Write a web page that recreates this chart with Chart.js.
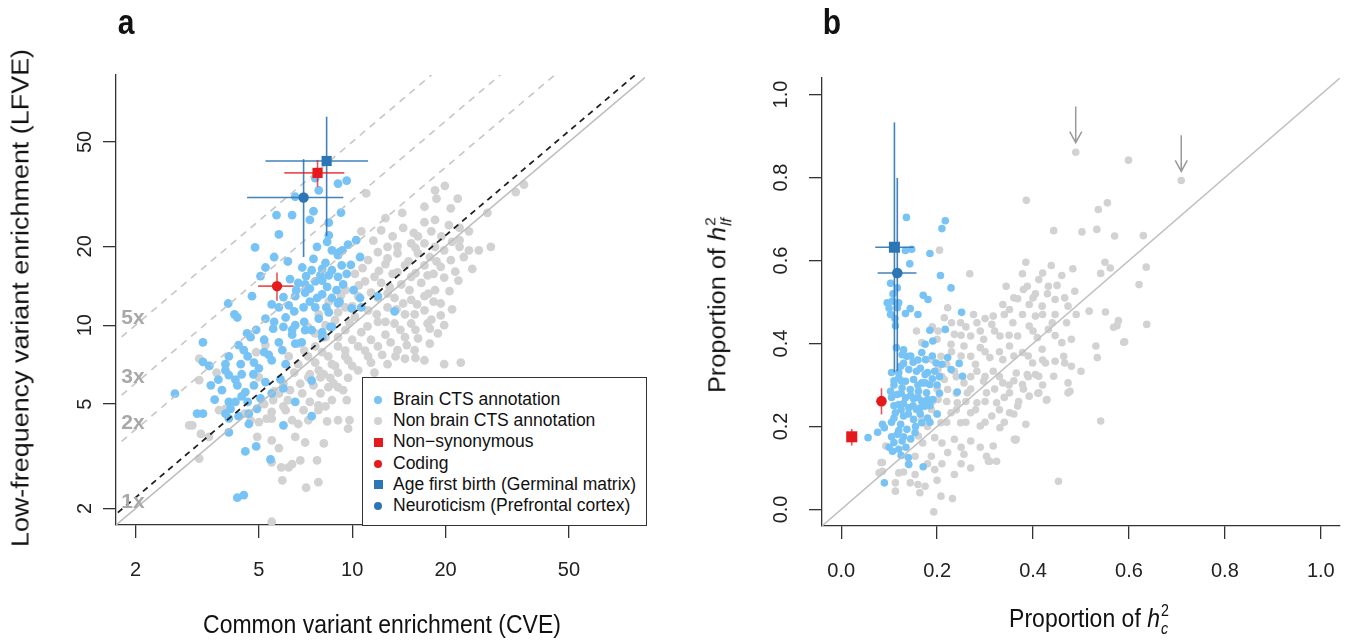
<!DOCTYPE html>
<html>
<head>
<meta charset="utf-8">
<script src="https://cdn.jsdelivr.net/npm/chart.js@4.4.0/dist/chart.umd.min.js"></script>
<style>
  body { margin: 0; background: #fff; font-family: "Liberation Sans", Arial, sans-serif; }
  #wrap { position: relative; width: 1366px; height: 644px; overflow: hidden; }
  canvas { position: absolute; top: 0; }
  .lbl { position: absolute; color: #111; white-space: nowrap; transform-origin: center; }
  .panel { font-weight: bold; font-size: 30px; }
  .title { font-size: 23px; }
  .ss { display: inline-block; vertical-align: -0.4em; font-size: 0.62em; line-height: 1.1; margin-left: 1px; }
  .ss span { display: block; }
  #legend { position: absolute; left: 362px; top: 377px; width: 283px; height: 147px; background: #fff;
            border: 1px solid #333; font-size: 17.5px; color: #111; }
  #legend div { position: absolute; left: 30px; white-space: nowrap; }
  #legend i { position: absolute; display: block; }
</style>
</head>
<body>
<div id="wrap">
  <canvas id="chartA" width="683" height="644" style="left:0;width:683px;height:644px"></canvas>
  <canvas id="chartB" width="683" height="644" style="left:683px;width:683px;height:644px"></canvas>

  <div class="lbl panel" style="left:126px;top:22px;transform:translate(-50%,-50%) scaleY(1.15)">a</div>
  <div class="lbl panel" style="left:832px;top:22px;transform:translate(-50%,-50%) scaleY(1.15)">b</div>

  <div class="lbl title" style="left:21px;top:298px;transform:translate(-50%,-50%) rotate(-90deg) scaleX(1.17)">Low-frequency variant enrichment (LFVE)</div>
  <div class="lbl title" style="left:382px;top:625px;transform:translate(-50%,-50%) scaleY(1.12)">Common variant enrichment (CVE)</div>
  <div class="lbl title" style="left:719px;top:305px;transform:translate(-50%,-50%) rotate(-90deg) scaleX(1.1)">Proportion of <i>h</i><span class="ss"><span>2</span><span><i>lf</i></span></span></div>
  <div class="lbl title" style="left:1089px;top:620px;transform:translate(-50%,-50%) scaleY(1.1)">Proportion of <i>h</i><span class="ss"><span>2</span><span><i>c</i></span></span></div>

  <div id="legend"></div>
</div>

<script>
// ---- data: panel a (enrichment, log scales) ----
const tickA = [2, 5, 10, 20, 50];
const guideRatios = [2, 3, 5];
const guideLabels = ['5x', '3x', '2x', '1x'];
const guideLabelY = [10.6, 6.33, 4.23, 2.11];
const fitRatio = 1.1;

const brainA = [
  [7.6,36.4],[9.0,34.7],[9.6,35.6],[7.8,32.7],[6.55,30.9],[5.7,26.3],[6.4,26.3],[7.5,27.2],[7.3,25.2],[9.2,26.9],
  [5.8,22.2],[8.4,24.6],[8.3,20.8],[8.4,22.0],[4.86,19.8],[7.7,19.9],[5.6,18.2],[8.6,19.3],[9.3,19.3],[9.7,20.3],
  [10.3,21.1],[10.6,18.2],[7.5,17.9],[9.0,18.5],[5.25,16.6],[6.9,16.6],[7.4,16.2],[8.0,16.4],[8.6,16.2],[9.25,16.9],
  [7.1,15.4],[7.9,15.5],[8.4,15.5],[5.06,15.4],[6.7,14.5],[7.05,14.3],[7.6,14.7],[8.0,14.8],[9.0,15.3],[4.75,12.9],
  [6.0,12.8],[6.55,12.9],[7.05,13.3],[8.0,13.1],[8.6,12.7],[9.1,12.3],[3.98,12.1],[4.17,11.0],[4.26,10.7],[5.8,11.7],
  [6.24,11.9],[6.97,11.7],[7.6,11.7],[8.25,11.7],[5.25,10.6],[6.1,10.7],[5.56,9.7],[6.0,9.85],[6.55,10.0],[7.05,9.57],
  [4.58,9.3],[4.7,9.0],[3.3,8.6],[6.4,9.2],[6.87,8.6],[8.0,9.0],[8.6,9.85],[9.95,11.6],[10.7,11.7],[7.8,10.6],
  [4.47,8.03],[3.3,7.25],[3.46,7.0],[3.9,7.1],[4.37,7.1],[4.82,7.2],[5.0,6.85],[5.38,7.7],[5.5,7.35],[6.1,7.1],
  [5.95,8.03],[6.55,8.5],[3.9,6.73],[4.0,6.45],[3.5,5.9],[3.8,5.65],[4.26,5.9],[4.82,5.9],[5.25,6.07],[4.52,5.56],
  [2.68,5.48],[4.0,5.1],[4.2,5.1],[4.4,5.35],[5.06,5.26],[6.0,5.74],[5.87,6.22],[7.4,6.15],[3.16,4.6],[3.3,4.6],
  [4.05,4.8],[4.0,4.41],[4.64,4.6],[4.93,4.8],[4.64,4.2],[4.0,3.9],[6.55,5.1],[6.0,4.15],[7.4,4.5],[4.52,3.3],
  [4.9,3.45],[5.45,3.08],[4.26,2.2],[4.47,2.25],[9.1,19.0],[9.35,14.3],[10.1,13.6],[10.6,12.7],[12.1,12.9],[13.7,11.3],
  [9.0,12.1],[8.0,9.4],[8.5,9.85],[7.4,9.57],
  [6.3,15.0],[7.3,13.8],[8.3,14.0],[6.6,13.6],[5.5,12.0],[6.5,11.3],[7.3,12.3],[8.4,11.2],[5.6,10.3],[6.4,9.6],
  [7.0,10.3],[4.9,9.6],[5.2,8.8],[5.8,8.6],[4.3,8.4],[4.0,7.6],[4.6,7.6],[5.2,7.9],[4.4,6.5],[4.8,6.5],
  [3.7,6.2],[4.2,6.2],[3.6,5.2],[4.6,5.1],[4.3,4.5],[3.9,4.6],[5.5,5.5],[7.7,12.7],[8.9,13.6],[9.6,15.7],
  [8.2,17.3],[6.2,17.5],[9.9,17.0]
];

const otherA = [
  [11.1,31.8],[12.8,25.6],[14.5,26.8],[18.5,32.7],[19.9,34.0],[21.9,30.4],[18.7,30.4],[17.1,28.3],[20.8,27.9],[17.1,24.7],
  [18.5,25.2],[20.5,24.1],[22.2,23.5],[14.6,23.5],[10.7,22.8],[18.0,22.8],[19.4,21.8],[16.3,21.8],[13.5,21.8],[13.0,19.9],
  [15.5,20.5],[17.1,20.5],[18.5,19.9],[19.8,19.3],[22.2,19.9],[23.8,19.3],[25.6,19.3],[28.0,19.9],[12.1,19.0],[14.0,18.8],
  [16.3,18.8],[17.8,18.2],[20.8,17.7],[22.9,18.2],[11.25,17.7],[12.8,17.1],[14.8,16.9],[17.1,16.9],[19.3,16.7],[24.4,16.4],
  [10.2,15.7],[11.8,15.3],[13.5,15.7],[15.5,15.3],[17.5,15.5],[19.8,15.2],[11.0,14.7],[12.4,14.5],[14.4,14.3],[16.7,14.5],
  [18.5,13.6],[9.5,13.6],[10.45,12.9],[12.1,12.7],[13.7,12.7],[15.5,12.5],[17.1,12.9],[19.3,12.1],[8.4,12.3],[9.5,11.7],
  [11.25,11.4],[13.0,11.7],[14.8,11.0],[17.1,11.4],[19.3,10.9],[7.8,11.0],[8.8,10.45],[10.2,10.75],[12.1,10.3],[13.7,10.15],
  [15.5,10.15],[17.5,10.15],[19.8,10.0],[7.2,9.85],[8.2,9.0],[9.5,9.57],[10.7,9.4],[12.8,9.2],[14.8,9.0],[16.3,8.9],
  [18.9,9.3],[6.7,8.5],[7.6,8.3],[9.0,8.3],[10.45,8.3],[12.1,8.3],[14.0,8.03],[15.9,8.03],[17.1,7.35],[19.8,7.1],
  [22.4,7.2],[6.24,7.6],[7.2,7.6],[8.37,7.6],[9.7,7.35],[11.25,7.6],[13.0,7.1],[14.8,7.45],[7.8,6.73],[9.0,6.6],
  [10.45,6.73],[11.8,6.6],[33.7,32.2],[35.8,34.4],[27.3,26.8],[23.8,22.8],[22.2,21.1],[3.21,7.45],[3.45,7.0],[3.65,6.6],
  [3.21,6.17],[3.9,4.8],[2.98,4.15],[3.25,3.85],[3.45,3.75],[3.21,3.1],[4.5,4.6],[4.7,4.34],[4.94,3.75],[5.5,3.64],
  [5.8,3.4],[5.0,4.27],[5.5,4.4],[6.1,4.74],[6.97,4.74],[7.78,4.74],[5.8,5.48],[6.3,5.65],[6.8,5.98],
  [7.22,6.33],[7.9,6.33],[8.37,5.8],[9.0,5.8],[8.6,5.18],[9.6,5.18],[9.0,4.34],[9.8,4.34],[9.7,4.03],[8.1,3.54],
  [6.8,3.05],[6.4,2.95],[5.9,2.87],[5.95,2.56],[7.1,2.4],[7.78,2.52],[5.5,3.0],[5.5,1.78],[4.9,7.9],[5.25,8.4],
  [5.0,6.33],[5.5,4.67],[3.72,4.74],[3.05,4.15],[6.55,3.75],[7.05,3.57],[6.24,2.87],[7.7,3.05],[6.4,4.34],[7.22,4.34],
  [7.78,4.95],[9.35,5.65],[6.2,5.18],[5.56,5.18],[8.1,6.5],[8.6,7.1],[9.5,7.6],
  [11.7,21.0],[12.4,23.0],[15.8,22.5],[14.0,20.0],[16.0,19.7],[21.0,20.8],[13.0,18.0],[15.2,17.5],[18.7,17.5],[21.5,16.0],
  [10.8,16.5],[12.2,16.1],[14.0,15.9],[16.0,15.8],[18.3,15.7],[22.0,14.8],[10.5,14.2],[13.2,14.0],[15.3,13.6],[17.6,13.2],
  [20.6,13.5],[9.2,13.0],[11.5,13.3],[13.0,13.2],[14.6,12.1],[16.2,12.0],[18.3,12.3],[9.0,11.2],[10.0,11.8],[12.0,11.0],
  [13.9,11.5],[15.9,11.0],[18.0,10.5],[21.0,11.5],[8.2,10.0],[9.8,10.2],[11.2,9.9],[12.8,10.3],[14.3,9.6],[16.0,9.6],
  [17.8,9.7],[7.6,9.3],[9.0,9.0],[10.0,8.8],[11.5,8.8],[13.3,8.6],[15.0,8.4],[17.8,8.5],[7.0,8.0],[8.0,7.9],
  [9.5,8.0],[11.0,8.0],[12.5,7.7],[13.8,7.6],[16.0,7.5],[6.7,7.1],[7.6,7.2],[8.8,7.0],[10.0,7.0],[11.5,7.2],
  [6.5,6.6],[7.3,6.5],[8.5,6.3],[9.7,6.3],[6.0,6.0],[7.5,5.9],[8.7,6.0],[5.6,5.6],[6.9,5.5],[7.9,5.5],
  [5.2,5.0],[6.0,4.9],[7.3,5.1],[8.2,4.9],[5.3,4.4],[6.7,4.2],[8.3,4.3]
];

// highlighted annotations: Non-synonymous, Coding, Age first birth, Neuroticism
const specNames = ['Non\u2212synonymous', 'Coding', 'Age first birth (Germinal matrix)', 'Neuroticism (Prefrontal cortex)'];
const specA_x   = [7.73, 5.72, 8.27, 6.97];
const specA_y   = [38.1, 14.1, 42.3, 30.7];
const specA_xlo = [6.04, 4.97, 5.25, 4.58];
const specA_xhi = [9.43, 6.47, 11.25, 9.36];
const specA_ylo = [33.7, 12.4, 21.9, 18.2];
const specA_yhi = [42.7, 15.9, 62.4, 43.0];

// ---- data: panel b (proportion of heritability) ----
const tickB = [0, 0.2, 0.4, 0.6, 0.8, 1.0];

const brainB = [
  [0.136,0.704],[0.217,0.696],[0.210,0.677],[0.134,0.624],[0.147,0.627],[0.185,0.617],[0.143,0.592],[0.207,0.564],[0.229,0.534],[0.103,0.545],
  [0.117,0.534],[0.171,0.516],[0.181,0.506],[0.096,0.498],[0.107,0.502],[0.120,0.498],[0.117,0.486],[0.144,0.484],[0.134,0.472],[0.160,0.470],
  [0.103,0.470],[0.113,0.443],[0.251,0.475],[0.185,0.432],[0.217,0.434],[0.191,0.406],[0.127,0.373],[0.137,0.369],[0.168,0.378],[0.176,0.361],
  [0.222,0.366],[0.246,0.352],[0.195,0.333],[0.229,0.337],[0.253,0.321],[0.242,0.283],[0.124,0.345],[0.141,0.337],[0.157,0.333],[0.175,0.325],
  [0.120,0.317],[0.134,0.309],[0.151,0.313],[0.168,0.305],[0.185,0.301],[0.127,0.293],[0.144,0.289],[0.161,0.285],[0.178,0.281],[0.117,0.277],
  [0.134,0.269],[0.151,0.267],[0.168,0.261],[0.191,0.265],[0.120,0.253],[0.141,0.245],[0.157,0.241],[0.175,0.249],[0.113,0.233],[0.130,0.225],
  [0.151,0.217],[0.168,0.209],[0.124,0.205],[0.137,0.193],[0.154,0.185],[0.117,0.181],[0.110,0.161],[0.127,0.165],[0.107,0.140],[0.120,0.145],
  [0.141,0.108],[0.171,0.103],[0.090,0.064],[0.103,0.285],[0.086,0.205],[0.076,0.186],[0.056,0.173],[0.090,0.197],[0.198,0.353],[0.175,0.398],
  [0.130,0.352],[0.150,0.355],[0.110,0.300],[0.160,0.300],[0.125,0.240],[0.145,0.275],[0.110,0.220],[0.100,0.150],[0.135,0.150],[0.165,0.230],
  [0.180,0.330],[0.200,0.300],
  [0.115,0.390],[0.130,0.385],[0.145,0.370],[0.160,0.360],[0.190,0.370],[0.210,0.350],[0.105,0.330],[0.120,0.330],[0.165,0.340],[0.190,0.315],
  [0.205,0.320],[0.110,0.310],[0.125,0.310],[0.175,0.305],[0.105,0.270],[0.125,0.280],[0.160,0.270],[0.180,0.265],[0.205,0.280],[0.110,0.250],
  [0.130,0.255],[0.150,0.250],[0.165,0.245],[0.185,0.250],[0.105,0.210],[0.140,0.230],[0.155,0.200],[0.180,0.220],[0.120,0.190],[0.145,0.170],
  [0.130,0.175],[0.105,0.175],[0.125,0.130],[0.140,0.125],[0.200,0.230],[0.185,0.210],[0.108,0.520],[0.112,0.460],[0.100,0.485]
];

const otherB = [
  [0.386,0.745],[0.443,0.672],[0.502,0.669],[0.205,0.625],[0.268,0.568],[0.385,0.596],[0.378,0.568],[0.438,0.588],[0.483,0.580],[0.412,0.554],
  [0.460,0.564],[0.344,0.538],[0.388,0.538],[0.432,0.538],[0.487,0.526],[0.405,0.520],[0.368,0.508],[0.446,0.506],[0.466,0.510],[0.337,0.494],
  [0.351,0.482],[0.392,0.494],[0.419,0.490],[0.473,0.490],[0.222,0.486],[0.276,0.470],[0.317,0.466],[0.378,0.470],[0.405,0.466],[0.446,0.470],
  [0.490,0.470],[0.517,0.478],[0.215,0.462],[0.249,0.450],[0.283,0.450],[0.314,0.446],[0.358,0.450],[0.392,0.442],[0.432,0.434],[0.157,0.430],
  [0.202,0.430],[0.236,0.422],[0.270,0.418],[0.297,0.410],[0.331,0.418],[0.368,0.418],[0.409,0.414],[0.460,0.402],[0.168,0.402],[0.229,0.398],
  [0.256,0.394],[0.290,0.390],[0.351,0.394],[0.378,0.378],[0.419,0.386],[0.426,0.353],[0.446,0.357],[0.466,0.353],[0.500,0.333],[0.208,0.369],
  [0.270,0.369],[0.310,0.366],[0.337,0.361],[0.399,0.353],[0.202,0.337],[0.236,0.333],[0.283,0.333],[0.317,0.333],[0.365,0.329],[0.405,0.325],
  [0.443,0.321],[0.215,0.313],[0.256,0.305],[0.297,0.309],[0.337,0.305],[0.378,0.301],[0.473,0.305],[0.477,0.285],[0.222,0.289],[0.263,0.281],
  [0.303,0.281],[0.351,0.281],[0.392,0.273],[0.429,0.265],[0.202,0.265],[0.242,0.257],[0.283,0.257],[0.324,0.257],[0.368,0.249],[0.188,0.241],
  [0.229,0.233],[0.270,0.233],[0.314,0.225],[0.351,0.233],[0.385,0.205],[0.168,0.217],[0.208,0.209],[0.249,0.209],[0.290,0.201],[0.331,0.197],
  [0.365,0.169],[0.161,0.177],[0.195,0.173],[0.236,0.169],[0.270,0.165],[0.317,0.153],[0.093,0.153],[0.086,0.113],[0.154,0.128],[0.188,0.128],
  [0.222,0.137],[0.256,0.133],[0.303,0.128],[0.310,0.116],[0.324,0.116],[0.086,0.092],[0.120,0.088],[0.154,0.084],[0.195,0.096],[0.236,0.084],
  [0.113,0.064],[0.144,0.064],[0.175,0.056],[0.113,0.044],[0.164,0.040],[0.208,0.032],[0.232,0.026],[0.453,0.068],[0.193,-0.006],[0.541,0.213],
  [0.361,0.169],[0.531,0.394],[0.534,0.366],[0.589,0.403],[0.551,0.476],[0.575,0.443],[0.480,0.345],[0.473,0.281],[0.307,0.116],[0.079,0.088],
  [0.083,0.113],[0.489,0.861],[0.599,0.842],[0.709,0.793],[0.536,0.723],[0.555,0.739],[0.533,0.675],[0.570,0.659],[0.630,0.660],[0.550,0.596],
  [0.561,0.582],[0.636,0.584],[0.541,0.569],[0.621,0.542],[0.578,0.455],[0.568,0.439],[0.637,0.446],[0.591,0.404],[0.446,0.419],[0.464,0.369],
  [0.412,0.281],[0.428,0.263],[0.363,0.167],[0.388,0.325],[0.412,0.321],
  [0.190,0.360],[0.220,0.350],[0.250,0.370],[0.280,0.350],[0.300,0.380],[0.330,0.380],[0.360,0.370],[0.390,0.370],[0.420,0.360],[0.210,0.320],
  [0.240,0.320],[0.270,0.320],[0.300,0.320],[0.330,0.320],[0.360,0.310],[0.390,0.320],[0.420,0.300],[0.200,0.290],[0.240,0.280],[0.270,0.290],
  [0.320,0.290],[0.350,0.300],[0.380,0.290],[0.410,0.280],[0.190,0.260],[0.220,0.260],[0.260,0.260],[0.300,0.260],[0.340,0.270],[0.370,0.260],
  [0.200,0.230],[0.240,0.240],[0.280,0.240],[0.330,0.240],[0.360,0.230],[0.180,0.200],[0.220,0.210],[0.260,0.210],[0.300,0.210],[0.340,0.210],
  [0.170,0.160],[0.210,0.160],[0.250,0.150],[0.290,0.150],[0.140,0.110],[0.180,0.110],[0.210,0.110],[0.250,0.110],[0.270,0.100],[0.160,0.060],
  [0.200,0.070],[0.130,0.090],[0.250,0.420],[0.290,0.430],[0.320,0.430],[0.350,0.420],[0.400,0.430],[0.300,0.460],[0.340,0.470],[0.420,0.470],
  [0.360,0.510],[0.400,0.510],[0.430,0.520],[0.380,0.530],[0.420,0.570],[0.450,0.540],[0.470,0.450],[0.440,0.450],[0.480,0.410],[0.230,0.450],
  [0.260,0.440],[0.200,0.410],[0.230,0.380],[0.190,0.440]
];

const specB_x   = [0.022, 0.084, 0.111, 0.117];
const specB_y   = [0.175, 0.261, 0.632, 0.570];
const specB_xlo = [0.022, 0.084, 0.071, 0.076];
const specB_xhi = [0.022, 0.084, 0.151, 0.157];
const specB_ylo = [0.154, 0.229, 0.331, 0.333];
const specB_yhi = [0.194, 0.292, 0.933, 0.799];

// arrows pointing at the two outliers
const arrowX   = [0.489, 0.709];
const arrowTop = [0.971, 0.902];
const arrowEnd = [0.884, 0.815];

// ---- styles ----
const BLUE_LIGHT = '#78c3f5';
const GREY = '#d2d2d2';
const RED = '#e41a1c';
const BLUE = '#2d76b6';
const specColor = [RED, RED, BLUE, BLUE];
const specStyle = ['rect', 'circle', 'rect', 'circle'];
const FONT = '"Liberation Sans", Arial, sans-serif';

Chart.defaults.font.family = FONT;
Chart.defaults.color = '#222';

const toXY = arr => arr.map(p => ({ x: p[0], y: p[1] }));

function pointSet(arr, color, r, order) {
    return { type: 'scatter', data: toXY(arr), pointRadius: r, pointBackgroundColor: color,
             pointBorderWidth: 0, pointHoverRadius: r, order: order };
}

function lineSet(pts, color, width, dash, order) {
    return { type: 'scatter', data: pts, showLine: true, pointRadius: 0, borderColor: color,
             borderWidth: width, borderDash: dash || [], order: order };
}

function specialSets(xs, ys, xlo, xhi, ylo, yhi, sqR, cR) {
    const sets = [];
    xs.forEach((x, i) => {
        const c = specColor[i];
        const barColor = c === RED ? 'rgba(228,26,28,0.75)' : 'rgba(45,118,182,0.9)';
        if (xlo[i] !== xhi[i]) sets.push(lineSet([{ x: xlo[i], y: ys[i] }, { x: xhi[i], y: ys[i] }], barColor, 1.6, null, 2));
        sets.push(lineSet([{ x: x, y: ylo[i] }, { x: x, y: yhi[i] }], barColor, 1.6, null, 2));
        sets.push({ type: 'scatter', data: [{ x: x, y: ys[i] }], pointStyle: specStyle[i],
                    pointRadius: specStyle[i] === 'rect' ? sqR : cR, pointBackgroundColor: c,
                    pointBorderWidth: 0, order: 1 });
    });
    return sets;
}

function axis(type, min, max, ticks, fmt, fitProp, fitVal, extra) {
    return Object.assign({
        type: type, min: min, max: max,
        afterBuildTicks: s => { s.ticks = ticks.map(v => ({ value: v })); },
        afterFit: s => { s[fitProp] = fitVal; },
        ticks: { callback: fmt, font: { size: 20 }, color: '#222', padding: 20, autoSkip: false, maxRotation: 0 },
        grid: { drawOnChartArea: false, drawTicks: true, tickLength: 13, color: '#333', lineWidth: 1.3 },
        border: { display: true, color: '#333', width: 1.3 }
    }, extra || {});
}

// y tick labels are drawn parallel to the axis, like base R
const rotatedTicks = {
    id: 'rotatedTicks',
    afterDraw(chart, args, opts) {
        const s = chart.scales.y, ctx = chart.ctx;
        ctx.save();
        ctx.font = '20px ' + FONT;
        ctx.fillStyle = '#222';
        ctx.textAlign = 'center';
        ctx.textBaseline = 'middle';
        s.ticks.forEach(t => {
            ctx.save();
            ctx.translate(chart.chartArea.left - opts.gap, s.getPixelForValue(t.value));
            ctx.rotate(-Math.PI / 2);
            ctx.fillText(opts.fmt(t.value), 0, 0);
            ctx.restore();
        });
        ctx.restore();
    }
};

const guideText = {
    id: 'guideText',
    afterDatasetsDraw(chart, args, opts) {
        if (!opts.labels) return;
        const ctx = chart.ctx, sx = chart.scales.x, sy = chart.scales.y;
        ctx.save();
        ctx.font = 'bold 21px ' + FONT;
        ctx.fillStyle = '#a8a8a8';
        ctx.textBaseline = 'middle';
        opts.labels.forEach((t, i) => ctx.fillText(t, sx.getPixelForValue(opts.x), sy.getPixelForValue(opts.y[i])));
        ctx.restore();
    }
};

const arrows = {
    id: 'arrows',
    afterDatasetsDraw(chart, args, opts) {
        if (!opts.x) return;
        const ctx = chart.ctx, sx = chart.scales.x, sy = chart.scales.y;
        ctx.save();
        ctx.strokeStyle = '#9a9a9a';
        ctx.lineWidth = 1.5;
        opts.x.forEach((v, i) => {
            const px = sx.getPixelForValue(v), y0 = sy.getPixelForValue(opts.top[i]), y1 = sy.getPixelForValue(opts.end[i]);
            ctx.beginPath();
            ctx.moveTo(px, y0); ctx.lineTo(px, y1);
            ctx.moveTo(px - 6, y1 - 11); ctx.lineTo(px, y1); ctx.lineTo(px + 6, y1 - 11);
            ctx.stroke();
        });
        ctx.restore();
    }
};

const common = {
    responsive: false, animation: false, devicePixelRatio: 1, events: [],
    plugins: { legend: { display: false }, tooltip: { enabled: false } }
};

// ---- panel a ----
// order: lower numbers are drawn on top
const setsA = [
    lineSet([{ x: 1, y: 1 }, { x: 100, y: 100 }], '#bdbdbd', 1.6, null, 3),
    lineSet([{ x: 1, y: fitRatio }, { x: 100, y: 100 * fitRatio }], '#222', 1.8, [6, 5], 3)
].concat(guideRatios.map(r => lineSet([{ x: 1, y: r }, { x: 100, y: 100 * r }], '#c6c6c6', 1.6, [7, 6], 3)))
 .concat([pointSet(otherA, GREY, 4.4, 5), pointSet(brainA, BLUE_LIGHT, 4.4, 4)])
 .concat(specialSets(specA_x, specA_y, specA_xlo, specA_xhi, specA_ylo, specA_yhi, 7.2, 5.2));

new Chart(document.getElementById('chartA'), {
    type: 'scatter',
    data: { datasets: setsA },
    options: Object.assign({}, common, {
        layout: { padding: { top: 75, right: 38, left: 0, bottom: 0 } },
        scales: {
            x: axis('logarithmic', 1.73, 88, tickA, v => String(v), 'height', 119),
            y: axis('logarithmic', 1.73, 90, tickA, v => String(v), 'width', 116,
                    { ticks: { color: 'rgba(0,0,0,0)', font: { size: 20 } } })
        },
        plugins: Object.assign({}, common.plugins, {
            rotatedTicks: { gap: 31, fmt: v => String(v) },
            guideText: { labels: guideLabels, x: 1.80, y: guideLabelY }
        })
    }),
    plugins: [rotatedTicks, guideText]
});

// ---- panel b ----
const setsB = [lineSet([{ x: -0.04, y: -0.04 }, { x: 1.04, y: 1.04 }], '#c0c0c0', 1.5, null, 3)]
    .concat([pointSet(otherB, GREY, 3.8, 5), pointSet(brainB, BLUE_LIGHT, 3.8, 4)])
    .concat(specialSets(specB_x, specB_y, specB_xlo, specB_xhi, specB_ylo, specB_yhi, 7.8, 5.3));

new Chart(document.getElementById('chartB'), {
    type: 'scatter',
    data: { datasets: setsB },
    options: Object.assign({}, common, {
        layout: { padding: { top: 78, right: 26, left: 0, bottom: 0 } },
        scales: {
            x: axis('linear', -0.04, 1.04, tickB, v => v.toFixed(1), 'height', 118),
            y: axis('linear', -0.04, 1.04, tickB, v => v.toFixed(1), 'width', 139,
                    { ticks: { color: 'rgba(0,0,0,0)', font: { size: 20 } } })
        },
        plugins: Object.assign({}, common.plugins, {
            rotatedTicks: { gap: 41, fmt: v => v.toFixed(1) },
            arrows: { x: arrowX, top: arrowTop, end: arrowEnd }
        })
    }),
    plugins: [rotatedTicks, arrows]
});

// ---- legend (inside panel a) ----
const legendItems = [
    { text: 'Brain CTS annotation', color: BLUE_LIGHT, shape: 'circle' },
    { text: 'Non brain CTS annotation', color: GREY, shape: 'circle' }
].concat(specNames.map((n, i) => ({ text: n, color: specColor[i], shape: specStyle[i] })));

const legend = document.getElementById('legend');
legendItems.forEach((it, i) => {
    const cy = 22 + i * 21.2;
    const size = it.shape === 'rect' ? 9 : 8;
    const mark = document.createElement('i');
    mark.style.cssText = `left:${15 - size / 2}px;top:${cy - size / 2}px;width:${size}px;height:${size}px;` +
        `background:${it.color};border-radius:${it.shape === 'circle' ? '50%' : '0'}`;
    const t = document.createElement('div');
    t.textContent = it.text;
    t.style.top = (cy - 11) + 'px';
    legend.appendChild(mark);
    legend.appendChild(t);
});
</script>
</body>
</html>
